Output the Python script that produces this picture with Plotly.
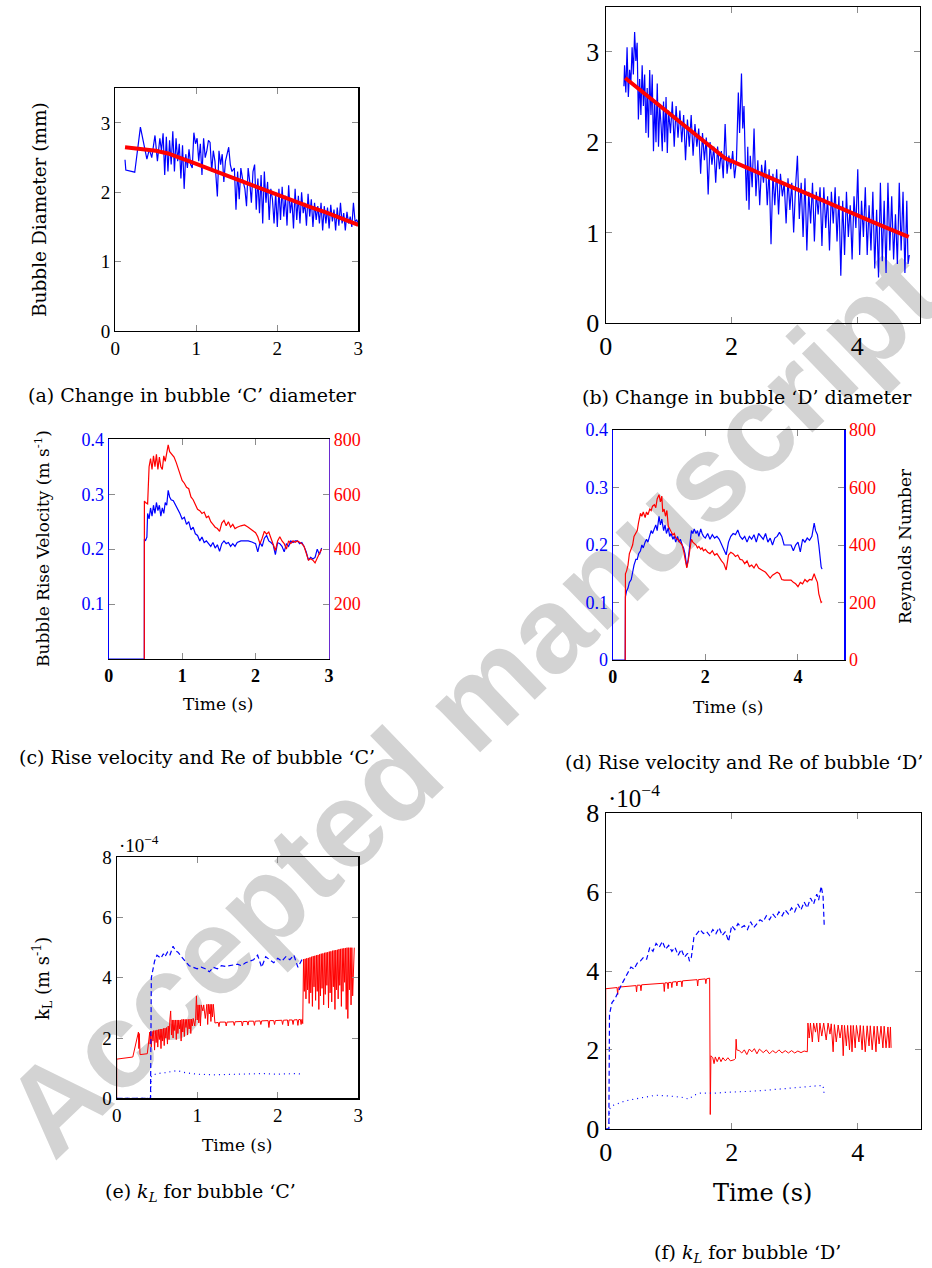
import plotly.graph_objects as go

W, H = 932, 1268

# ---------------- data ----------------
# (a) bubble C diameter (time s, diameter mm)
a_meas = [(0.12,2.47),(0.13,2.32),(0.24,2.29),(0.31,2.94),(0.36,2.65),(0.39,2.48),(0.42,2.62),(0.45,2.50),
          (0.49,2.82),(0.52,2.45),(0.55,2.78),(0.57,2.60),(0.59,2.85),(0.61,2.25),(0.63,2.80),(0.65,2.30),
          (0.67,2.75),(0.69,2.40),(0.71,2.88),(0.73,2.30),(0.75,2.78),(0.77,2.45),(0.79,2.70),(0.81,2.20),
          (0.83,2.68),(0.85,2.05),(0.87,2.55),(0.89,2.35),(0.91,2.62),(0.93,2.40),(0.95,2.35),(0.97,2.86),
          (0.99,2.70),(1.01,2.78),(1.03,2.45),(1.05,2.70),(1.07,2.25),(1.09,2.78),(1.11,2.50),(1.13,2.60),
          (1.15,2.75),(1.17,2.72),(1.19,2.30),(1.21,2.60),(1.23,2.45),(1.26,1.94),(1.28,2.60),(1.30,2.40),
          (1.32,2.55),(1.34,2.15),(1.36,2.45),(1.38,2.55),(1.40,2.65),(1.42,2.40),(1.44,2.30),(1.47,2.35),
          (1.49,1.75),(1.51,2.30),(1.53,1.90),(1.55,2.35),(1.57,2.20),(1.60,2.05),(1.62,1.80),(1.64,2.35),
          (1.66,2.15),(1.68,1.85),(1.70,2.30),(1.72,2.40),(1.74,1.75),(1.76,2.20),(1.78,1.70),(1.80,2.25),
          (1.82,1.55),(1.84,2.30),(1.86,1.85),(1.88,2.15),(1.90,1.60),(1.92,2.05),(1.94,1.90),(1.96,1.55),
          (1.98,2.00),(2.00,1.50),(2.02,2.05),(2.04,1.60),(2.06,2.08),(2.08,1.65),(2.10,1.95),(2.12,1.52),
          (2.14,2.10),(2.16,1.70),(2.18,1.90),(2.20,1.48),(2.22,2.05),(2.24,1.60),(2.26,1.95),(2.28,1.55),
          (2.30,2.00),(2.32,1.70),(2.34,1.85),(2.36,1.52),(2.38,1.98),(2.40,1.65),(2.42,1.90),(2.44,1.50),
          (2.46,1.85),(2.48,1.60),(2.50,1.80),(2.52,1.55),(2.54,1.85),(2.56,1.45),(2.58,1.80),(2.60,1.55),
          (2.62,1.78),(2.64,1.48),(2.66,1.82),(2.68,1.58),(2.70,1.75),(2.72,1.45),(2.74,1.78),(2.76,1.52),
          (2.78,1.85),(2.80,1.55),(2.82,1.70),(2.84,1.45),(2.86,1.72),(2.88,1.55),(2.90,1.65),(2.92,1.50),
          (2.94,1.85),(2.96,1.58),(2.98,1.60),(3.00,1.55)]
a_fit = [(0.12,2.65),(0.3,2.62),(0.5,2.60),(0.65,2.56),(0.8,2.49),(1.0,2.41),(1.2,2.32),(1.4,2.23),
         (1.6,2.14),(1.8,2.05),(2.0,1.97),(2.2,1.88),(2.4,1.79),(2.6,1.71),(2.8,1.62),(3.0,1.53)]

# (b) bubble D diameter
b_meas = [(0.29,2.62),(0.30,2.85),(0.32,2.55),(0.34,3.05),(0.36,2.50),(0.38,2.80),(0.40,2.65),(0.42,3.05),
          (0.44,2.75),(0.46,3.22),(0.48,2.90),(0.50,3.10),(0.52,2.25),(0.54,2.70),(0.56,2.30),(0.58,2.85),
          (0.60,2.40),(0.62,2.75),(0.64,2.10),(0.66,2.60),(0.68,2.05),(0.70,2.80),(0.72,2.30),(0.74,2.75),
          (0.76,1.90),(0.78,2.45),(0.80,2.00),(0.82,2.65),(0.84,1.95),(0.86,2.40),(0.88,2.20),(0.90,1.90),
          (0.92,2.45),(0.94,2.00),(0.96,2.50),(0.98,1.88),(1.00,2.35),(1.03,2.10),(1.06,2.45),(1.09,1.95),
          (1.12,2.40),(1.15,2.05),(1.18,2.35),(1.21,2.00),(1.24,2.30),(1.27,1.80),(1.30,2.25),(1.33,1.95),
          (1.36,2.30),(1.39,1.85),(1.42,2.20),(1.45,1.95),(1.48,2.15),(1.51,1.65),(1.54,2.10),(1.57,1.80),
          (1.60,2.05),(1.63,1.42),(1.66,2.00),(1.69,1.75),(1.72,1.95),(1.75,1.55),(1.78,1.95),(1.81,1.70),
          (1.84,1.90),(1.87,1.60),(1.90,2.20),(1.93,1.65),(1.96,1.85),(1.99,1.70),(2.02,1.90),(2.05,1.60),
          (2.08,1.80),(2.11,2.55),(2.13,2.10),(2.16,2.76),(2.18,2.15),(2.20,2.40),(2.22,1.80),(2.24,1.35),
          (2.26,1.95),(2.28,1.25),(2.30,1.85),(2.33,1.50),(2.36,2.15),(2.39,1.40),(2.42,1.80),(2.45,1.30),
          (2.48,1.75),(2.51,1.55),(2.54,1.80),(2.57,1.30),(2.60,1.70),(2.63,0.87),(2.66,1.65),(2.69,1.30),
          (2.72,1.70),(2.75,1.20),(2.78,1.65),(2.81,1.40),(2.84,1.55),(2.87,1.10),(2.90,1.60),(2.93,1.25),
          (2.96,1.55),(2.99,1.00),(3.02,1.50),(3.05,1.85),(3.08,1.15),(3.11,1.55),(3.14,0.95),(3.17,1.60),
          (3.20,0.80),(3.23,1.45),(3.26,1.10),(3.29,1.55),(3.32,0.90),(3.35,1.45),(3.38,1.20),(3.41,1.50),
          (3.44,0.85),(3.47,1.50),(3.50,1.05),(3.53,1.40),(3.56,0.80),(3.59,1.45),(3.62,1.10),(3.65,1.50),
          (3.68,0.90),(3.71,1.40),(3.74,0.52),(3.77,1.35),(3.80,0.75),(3.83,1.45),(3.86,0.95),(3.89,1.30),
          (3.92,0.70),(3.95,1.40),(3.98,1.05),(4.01,1.70),(4.04,0.75),(4.07,1.35),(4.10,0.95),(4.13,1.50),
          (4.16,0.75),(4.19,1.30),(4.22,0.80),(4.25,1.45),(4.28,0.60),(4.31,1.25),(4.34,0.50),(4.37,1.55),
          (4.40,0.68),(4.43,1.35),(4.46,0.55),(4.49,1.55),(4.52,0.80),(4.55,1.40),(4.58,0.70),(4.61,1.20),
          (4.64,0.65),(4.67,1.55),(4.70,0.80),(4.73,1.45),(4.76,0.55),(4.79,1.35),(4.81,0.65),(4.83,0.75)]
b_fit = [(0.31,2.71),(0.6,2.55),(1.0,2.33),(1.4,2.10),(1.9,1.82),(2.3,1.70),(2.8,1.55),(3.3,1.40),
         (3.8,1.24),(4.3,1.10),(4.82,0.95)]

# (c) bubble C rise velocity (m/s) and Reynolds number
c_vel = [(0,0),(0.485,0),(0.486,0.218),(0.50,0.215),(0.52,0.222),(0.53,0.265),(0.55,0.255),(0.57,0.275),
         (0.59,0.26),(0.61,0.28),(0.63,0.265),(0.65,0.285),(0.67,0.27),(0.69,0.28),(0.71,0.26),(0.73,0.275),
         (0.75,0.265),(0.77,0.285),(0.79,0.28),(0.81,0.307),(0.83,0.295),(0.85,0.29),(0.88,0.288),(0.91,0.28),
         (0.94,0.275),(0.97,0.265),(1.00,0.255),(1.03,0.258),(1.06,0.245),(1.09,0.25),(1.12,0.235),(1.15,0.24),
         (1.18,0.228),(1.21,0.225),(1.24,0.215),(1.27,0.222),(1.30,0.212),(1.33,0.215),(1.36,0.21),(1.39,0.205),
         (1.42,0.212),(1.45,0.202),(1.48,0.208),(1.51,0.196),(1.54,0.21),(1.57,0.215),(1.60,0.21),(1.63,0.212),
         (1.66,0.205),(1.69,0.21),(1.72,0.205),(1.75,0.212),(1.80,0.215),(1.85,0.215),(1.90,0.215),(1.95,0.213),
         (2.00,0.21),(2.03,0.195),(2.06,0.212),(2.09,0.205),(2.12,0.22),(2.15,0.225),(2.18,0.215),(2.21,0.212),
         (2.24,0.208),(2.27,0.19),(2.30,0.212),(2.33,0.21),(2.36,0.205),(2.39,0.195),(2.42,0.21),(2.45,0.205),
         (2.48,0.215),(2.51,0.212),(2.54,0.215),(2.57,0.215),(2.60,0.21),(2.63,0.212),(2.66,0.205),(2.69,0.195),
         (2.72,0.18),(2.75,0.185),(2.78,0.182),(2.81,0.185),(2.84,0.2),(2.87,0.19),(2.90,0.202)]
c_re = [(0.485,0),(0.486,575),(0.50,570),(0.53,565),(0.55,700),(0.57,730),(0.59,690),(0.61,740),(0.63,700),
        (0.65,745),(0.67,690),(0.69,735),(0.71,700),(0.73,690),(0.75,740),(0.77,720),(0.79,750),(0.81,780),
        (0.83,755),(0.86,745),(0.89,735),(0.92,715),(0.95,690),(0.98,665),(1.00,650),(1.03,640),(1.06,625),
        (1.09,620),(1.12,590),(1.15,580),(1.18,560),(1.21,545),(1.24,540),(1.27,530),(1.30,535),(1.33,515),
        (1.36,520),(1.39,500),(1.42,490),(1.45,480),(1.48,475),(1.51,465),(1.54,495),(1.57,505),(1.60,485),
        (1.63,500),(1.66,480),(1.69,490),(1.72,475),(1.75,480),(1.80,485),(1.85,488),(1.90,480),(1.95,470),
        (2.00,460),(2.03,445),(2.06,420),(2.09,440),(2.12,465),(2.15,455),(2.18,462),(2.21,440),(2.24,420),
        (2.27,395),(2.30,430),(2.33,445),(2.36,430),(2.39,420),(2.42,400),(2.45,430),(2.48,420),(2.51,430),
        (2.54,425),(2.57,430),(2.60,425),(2.63,420),(2.66,410),(2.69,385),(2.72,360),(2.75,365),(2.78,360),
        (2.81,350),(2.84,370),(2.87,385),(2.90,400)]

# (d) bubble D rise velocity and Reynolds number
d_vel = [(0,0),(0.27,0),(0.275,0.11),(0.30,0.12),(0.33,0.125),(0.36,0.135),(0.40,0.14),(0.43,0.155),
         (0.46,0.165),(0.50,0.175),(0.53,0.175),(0.56,0.185),(0.60,0.19),(0.63,0.2),(0.66,0.195),(0.70,0.205),
         (0.73,0.21),(0.76,0.205),(0.80,0.215),(0.83,0.225),(0.86,0.22),(0.90,0.228),(0.93,0.235),(0.96,0.225),
         (1.00,0.25),(1.03,0.235),(1.06,0.245),(1.10,0.225),(1.13,0.235),(1.16,0.22),(1.20,0.23),(1.23,0.215),
         (1.26,0.22),(1.30,0.21),(1.33,0.215),(1.36,0.205),(1.40,0.215),(1.43,0.205),(1.46,0.21),(1.50,0.2),
         (1.53,0.195),(1.56,0.185),(1.60,0.162),(1.63,0.175),(1.66,0.195),(1.70,0.225),(1.73,0.22),(1.76,0.228),
         (1.80,0.22),(1.83,0.225),(1.86,0.215),(1.90,0.228),(1.93,0.22),(1.96,0.215),(2.00,0.212),(2.05,0.22),
         (2.10,0.21),(2.15,0.218),(2.20,0.212),(2.25,0.215),(2.30,0.21),(2.35,0.2),(2.40,0.19),(2.45,0.183),
         (2.50,0.205),(2.55,0.215),(2.60,0.22),(2.65,0.218),(2.70,0.226),(2.75,0.215),(2.80,0.21),(2.85,0.215),
         (2.90,0.205),(2.95,0.215),(3.00,0.21),(3.05,0.218),(3.10,0.205),(3.15,0.22),(3.20,0.215),(3.25,0.21),
         (3.30,0.22),(3.35,0.205),(3.40,0.212),(3.45,0.2),(3.50,0.212),(3.55,0.215),(3.60,0.222),(3.65,0.215),
         (3.70,0.2),(3.75,0.2),(3.80,0.2),(3.85,0.2),(3.90,0.19),(3.95,0.2),(4.00,0.205),(4.05,0.188),
         (4.10,0.21),(4.15,0.205),(4.20,0.212),(4.25,0.208),(4.30,0.215),(4.35,0.238),(4.38,0.225),(4.42,0.218),
         (4.45,0.2),(4.48,0.175),(4.50,0.162),(4.52,0.158)]
d_re = [(0.27,0),(0.275,300),(0.30,310),(0.33,330),(0.36,370),(0.40,385),(0.43,400),(0.46,430),(0.50,445),
        (0.53,450),(0.56,480),(0.60,510),(0.63,500),(0.66,515),(0.70,495),(0.73,515),(0.76,505),(0.80,525),
        (0.83,520),(0.86,535),(0.90,540),(0.93,530),(0.96,560),(1.00,575),(1.03,550),(1.06,570),(1.08,515),
        (1.11,525),(1.14,500),(1.17,520),(1.20,465),(1.23,455),(1.26,450),(1.30,435),(1.33,440),(1.36,425),
        (1.40,420),(1.43,415),(1.46,410),(1.50,400),(1.53,380),(1.56,350),(1.60,320),(1.63,345),(1.66,380),
        (1.70,420),(1.73,410),(1.76,405),(1.80,400),(1.83,390),(1.86,395),(1.90,385),(1.93,390),(1.96,380),
        (2.00,385),(2.05,375),(2.10,370),(2.15,380),(2.20,365),(2.25,370),(2.30,355),(2.35,345),(2.40,335),
        (2.45,313),(2.50,365),(2.55,375),(2.60,370),(2.65,360),(2.70,365),(2.75,350),(2.80,348),(2.85,335),
        (2.90,345),(2.95,325),(3.00,330),(3.05,320),(3.10,335),(3.15,320),(3.20,315),(3.25,310),(3.30,305),
        (3.35,295),(3.40,285),(3.45,295),(3.50,300),(3.55,305),(3.60,300),(3.65,280),(3.70,278),(3.75,278),
        (3.80,278),(3.85,278),(3.90,270),(3.95,265),(4.00,255),(4.05,270),(4.10,265),(4.15,280),(4.20,272),
        (4.25,280),(4.30,278),(4.35,300),(4.38,285),(4.42,270),(4.45,230),(4.48,210),(4.50,200),(4.52,203)]

# (e) k_L for bubble C  (units of 1e-4 m/s)
e_red = [(0,0),(0,1.30),(0.20,1.37),(0.27,2.20),(0.275,1.65),(0.28,2.15),(0.29,1.45),(0.38,1.48),(0.41,2.20),
         (0.415,1.80),(0.42,2.22),(0.43,1.70),(0.44,2.22),(0.45,1.90),(0.46,2.25),(0.47,1.60),(0.48,2.25),
         (0.49,1.85),(0.50,2.27),(0.51,1.70),(0.52,2.28),(0.53,1.95),(0.54,2.30),(0.55,1.65),(0.56,2.30),
         (0.57,1.90),(0.58,2.32),(0.59,1.75),(0.60,2.33),(0.61,2.00),(0.62,2.35),(0.63,1.80),(0.64,2.40),
         (0.65,1.95),(0.66,2.60),(0.67,2.90),(0.68,2.10),(0.69,2.60),(0.70,2.00),(0.71,2.60),(0.72,2.25),
         (0.73,2.60),(0.74,1.95),(0.75,2.60),(0.76,2.15),(0.77,2.60),(0.78,2.30),(0.79,2.60),(0.80,1.90),
         (0.81,2.62),(0.82,2.20),(0.83,2.62),(0.84,2.05),(0.85,2.62),(0.86,2.35),(0.87,2.62),(0.88,2.10),
         (0.89,2.62),(0.90,2.30),(0.91,2.63),(0.92,2.15),(0.93,2.63),(0.94,2.40),(0.95,2.65),(0.97,2.40),
         (0.98,2.66),(0.99,3.40),(1.00,2.60),(1.01,3.10),(1.02,2.50),(1.03,3.10),(1.04,2.40),(1.05,3.10),
         (1.07,2.90),(1.08,3.10),(1.10,2.65),(1.12,3.12),(1.13,2.45),(1.14,3.12),(1.15,2.80),(1.16,3.12),
         (1.17,2.55),(1.18,3.12),(1.19,2.70),(1.20,3.12),(1.22,2.50),(1.26,2.52),(1.27,2.38),(1.28,2.53),
         (1.35,2.53),(1.36,2.40),(1.37,2.53),(1.45,2.54),(1.46,2.42),(1.47,2.54),(1.55,2.55),(1.56,2.40),
         (1.57,2.55),(1.62,2.55),(1.63,2.43),(1.64,2.56),(1.70,2.56),(1.71,2.42),(1.72,2.56),(1.78,2.57),
         (1.79,2.45),(1.80,2.57),(1.88,2.58),(1.89,2.35),(1.90,2.58),(1.95,2.58),(1.96,2.45),(1.97,2.58),
         (2.05,2.59),(2.06,2.45),(2.07,2.59),(2.12,2.60),(2.13,2.40),(2.14,2.60),(2.18,2.60),(2.19,2.45),
         (2.20,2.60),(2.24,2.61),(2.25,2.42),(2.26,2.61),(2.28,2.62),(2.29,2.45),(2.30,2.62),(2.31,2.48),
         (2.32,4.62),(2.33,3.55),(2.34,4.63),(2.35,3.30),(2.36,4.65),(2.37,3.60),(2.38,4.66),(2.39,3.15),
         (2.40,4.68),(2.41,3.50),(2.42,4.70),(2.43,3.05),(2.44,4.72),(2.45,3.70),(2.46,4.73),(2.47,3.25),
         (2.48,4.75),(2.49,3.55),(2.50,4.76),(2.51,2.95),(2.52,4.78),(2.53,3.40),(2.54,4.80),(2.55,3.65),
         (2.56,4.81),(2.57,3.10),(2.58,4.83),(2.59,3.45),(2.60,4.84),(2.61,3.75),(2.62,4.85),(2.63,3.00),
         (2.64,4.87),(2.65,3.50),(2.66,4.88),(2.67,3.20),(2.68,4.90),(2.69,3.70),(2.70,4.91),(2.71,2.95),
         (2.72,4.92),(2.73,3.60),(2.74,4.93),(2.75,3.30),(2.76,4.95),(2.77,3.75),(2.78,4.96),(2.79,3.05),
         (2.80,4.97),(2.81,3.55),(2.82,4.98),(2.83,3.85),(2.84,4.99),(2.85,2.95),(2.86,5.00),(2.87,2.65),
         (2.88,5.00),(2.89,3.60),(2.90,5.00),(2.91,3.10),(2.92,5.00),(2.93,3.40),(2.95,5.00)]
e_dash = [(0,0),(0.42,0),(0.43,4.0),(0.47,4.55),(0.50,4.75),(0.55,4.65),(0.58,4.8),(0.60,4.7),(0.63,4.85),
          (0.66,4.75),(0.70,5.05),(0.73,4.9),(0.76,4.85),(0.80,4.7),(0.85,4.55),(0.90,4.4),(0.95,4.35),
          (1.00,4.3),(1.05,4.35),(1.10,4.3),(1.15,4.2),(1.20,4.35),(1.25,4.3),(1.30,4.4),(1.35,4.38),
          (1.40,4.4),(1.45,4.42),(1.50,4.45),(1.55,4.4),(1.60,4.5),(1.65,4.55),(1.70,4.6),(1.75,4.75),
          (1.80,4.35),(1.85,4.7),(1.90,4.6),(1.95,4.5),(2.00,4.65),(2.05,4.55),(2.10,4.7),(2.15,4.6),
          (2.20,4.75),(2.25,4.35),(2.30,4.6),(2.32,4.65)]
e_dot = [(0,0),(0.42,0),(0.43,0.75),(0.50,0.82),(0.60,0.85),(0.70,0.9),(0.75,0.92),(0.85,0.85),(1.00,0.8),
         (1.20,0.78),(1.50,0.8),(1.80,0.82),(2.00,0.8),(2.20,0.82),(2.32,0.8)]

# (f) k_L for bubble D  (units of 1e-4 m/s)
f_red = [(0,0),(0,3.55),(0.18,3.58),(0.19,3.40),(0.20,3.59),(0.48,3.63),(0.49,3.47),(0.50,3.64),(0.55,3.64),
         (0.56,3.50),(0.57,3.65),(0.92,3.69),(0.93,3.48),(0.94,3.70),(0.98,3.70),(0.99,3.55),(1.00,3.71),
         (1.04,3.71),(1.05,3.58),(1.06,3.72),(1.12,3.73),(1.13,3.62),(1.14,3.73),(1.20,3.74),(1.21,3.60),
         (1.22,3.75),(1.45,3.78),(1.46,3.62),(1.47,3.78),(1.58,3.80),(1.59,3.68),(1.60,3.80),(1.65,3.82),
         (1.66,0.36),(1.67,1.85),(1.70,1.80),(1.72,1.65),(1.74,1.82),(1.77,1.70),(1.80,1.82),(1.83,1.70),
         (1.86,1.80),(1.90,1.72),(1.94,1.80),(1.98,1.72),(2.04,1.75),(2.06,1.78),(2.07,2.27),(2.08,2.00),
         (2.12,1.98),(2.16,1.92),(2.20,2.00),(2.24,1.88),(2.28,2.02),(2.32,1.95),(2.36,2.03),(2.40,1.90),
         (2.44,2.02),(2.50,1.93),(2.55,2.00),(2.60,1.90),(2.65,1.98),(2.70,1.92),(2.75,2.00),(2.80,1.92),
         (2.85,1.98),(2.90,1.92),(2.95,1.98),(3.00,1.92),(3.05,1.97),(3.10,1.93),(3.15,1.97),(3.20,1.95),
         (3.21,2.68),(3.23,2.30),(3.25,2.68),(3.28,2.20),(3.30,2.68),(3.33,2.45),(3.35,2.68),(3.38,2.20),
         (3.40,2.68),(3.43,2.35),(3.46,2.68),(3.50,2.25),(3.53,2.68),(3.56,2.40),(3.58,2.66),(3.61,1.95),
         (3.63,2.64),(3.66,2.20),(3.69,2.63),(3.72,2.30),(3.75,2.63),(3.77,1.85),(3.79,2.62),(3.82,2.10),
         (3.84,2.62),(3.87,2.00),(3.89,2.62),(3.91,1.95),(3.93,2.62),(3.96,2.05),(3.98,2.62),(4.02,2.20),
         (4.04,2.62),(4.07,2.00),(4.09,2.61),(4.12,1.95),(4.15,2.61),(4.18,2.10),(4.20,2.61),(4.23,2.00),
         (4.26,2.60),(4.29,1.95),(4.31,2.60),(4.34,2.15),(4.37,2.60),(4.40,2.05),(4.42,2.60),(4.45,2.05),
         (4.48,2.58),(4.50,2.05),(4.52,2.58),(4.53,2.05)]
f_dash = [(0,0),(0.05,0),(0.06,2.9),(0.10,3.2),(0.15,3.3),(0.20,3.5),(0.25,3.65),(0.30,3.8),(0.35,3.95),
          (0.40,4.1),(0.45,4.05),(0.50,4.2),(0.55,4.25),(0.60,4.35),(0.65,4.3),(0.70,4.6),(0.75,4.5),
          (0.80,4.7),(0.85,4.6),(0.90,4.75),(0.95,4.55),(1.00,4.65),(1.05,4.5),(1.10,4.6),(1.15,4.4),
          (1.20,4.55),(1.25,4.35),(1.30,4.45),(1.33,4.25),(1.36,4.35),(1.40,4.85),(1.45,4.95),(1.50,5.05),
          (1.55,4.95),(1.60,5.0),(1.65,4.9),(1.70,5.05),(1.75,4.95),(1.80,5.1),(1.85,4.9),(1.90,5.0),
          (1.95,4.75),(2.00,5.15),(2.05,5.05),(2.10,5.2),(2.15,5.1),(2.20,5.15),(2.25,5.05),(2.30,5.25),
          (2.35,5.1),(2.40,5.2),(2.45,5.3),(2.50,5.25),(2.55,5.4),(2.60,5.3),(2.65,5.45),(2.70,5.35),
          (2.75,5.5),(2.80,5.4),(2.85,5.55),(2.90,5.45),(2.95,5.6),(3.00,5.5),(3.05,5.7),(3.10,5.55),
          (3.15,5.75),(3.20,5.6),(3.25,5.85),(3.30,5.7),(3.35,5.95),(3.38,5.8),(3.42,6.15),(3.45,5.9),(3.47,5.1)]
f_dot = [(0.05,0),(0.06,0.5),(0.10,0.58),(0.20,0.65),(0.30,0.7),(0.45,0.75),(0.60,0.8),(0.80,0.85),
         (1.00,0.83),(1.20,0.8),(1.32,0.75),(1.40,0.85),(1.50,0.9),(1.70,0.9),(1.90,0.92),(2.10,0.93),
         (2.30,0.95),(2.50,0.97),(2.70,1.0),(2.90,1.02),(3.10,1.05),(3.30,1.08),(3.45,1.1),(3.47,0.85)]

captions = ["(a) Change in bubble ‘C’ diameter", "(b) Change in bubble ‘D’ diameter",
            "(c) Rise velocity and Re of bubble ‘C’", "(d) Rise velocity and Re of bubble ‘D’",
            "(e) <i>k<sub>L</sub></i> for bubble ‘C’", "(f) <i>k<sub>L</sub></i> for bubble ‘D’"]

# ---------------- layout helpers ----------------
SERIF = "Liberation Serif"
TSERIF = "DejaVu Serif"
BLUE, RED, PURPLE = "#0000ff", "#ff0000", "#6a2bd0"


def px(xp):
    return xp / W


def py(yp):
    return 1 - yp / H


def xs(d):
    return [p[0] for p in d]


def ys(d):
    return [p[1] for p in d]


fig = go.Figure()


def line(data, xa, ya, color, width=1.2, dash=None):
    fig.add_trace(go.Scatter(x=xs(data), y=ys(data), mode="lines", xaxis=xa, yaxis=ya,
                             line=dict(color=color, width=width, dash=dash), showlegend=False,
                             hoverinfo="skip"))


line(a_meas, "x", "y", BLUE, 1.2)
line(a_fit, "x", "y", RED, 4)
line(b_meas, "x2", "y2", BLUE, 1.2)
line(b_fit, "x2", "y2", RED, 4)
line(c_vel, "x3", "y3", BLUE, 1.2)
line(c_re, "x3", "y4", RED, 1.2)
line(d_vel, "x4", "y5", BLUE, 1.2)
line(d_re, "x4", "y6", RED, 1.2)
line(e_red, "x5", "y7", RED, 1.0)
line(e_dash, "x5", "y7", BLUE, 1.2, "5px,3px")
line(e_dot, "x5", "y7", BLUE, 1.2, "1px,4px")
line(f_red, "x6", "y8", RED, 1.0)
line(f_dash, "x6", "y8", BLUE, 1.2, "5px,3px")
line(f_dot, "x6", "y8", BLUE, 1.2, "1px,4px")


def axstyle(size, rng, tickvals, color="black", linecolor="black", mirror="ticks", bold=False):
    f = dict(family=SERIF, size=size, color=color)
    if bold:
        f["weight"] = "bold"
    return dict(range=rng, tickvals=tickvals, ticks="inside", ticklen=6, tickcolor="#8c8c8c",
                tickwidth=1, showline=True, linecolor=linecolor, linewidth=1.2, mirror=mirror,
                showgrid=False, zeroline=False, tickfont=f, fixedrange=True, automargin=False)


# pixel boxes of the panels: (left, right, top, bottom)
box = {
    "a": (115.3, 358.3, 88.3, 331.0),
    "b": (605.7, 920.0, 6.7, 322.7),
    "c": (108.7, 329.0, 439.3, 659.0),
    "d": (612.7, 844.3, 430.0, 660.0),
    "e": (116.7, 358.3, 857.3, 1098.3),
    "f": (605.7, 920.7, 813.3, 1128.7),
}


def dom(k):
    l, r, t, b = box[k]
    return [px(l), px(r)], [py(b), py(t)]


lay = {}
xd, yd = dom("a")
lay["xaxis"] = dict(domain=xd, anchor="y", **axstyle(19, [0, 3], [0, 1, 2, 3]))
lay["yaxis"] = dict(domain=yd, anchor="x", **axstyle(19, [0, 3.5], [0, 1, 2, 3]))
xd, yd = dom("b")
lay["xaxis2"] = dict(domain=xd, anchor="y2", **axstyle(26, [0, 5], [0, 2, 4]))
lay["yaxis2"] = dict(domain=yd, anchor="x2", **axstyle(26, [0, 3.5], [0, 1, 2, 3]))
xd, yd = dom("c")
lay["xaxis3"] = dict(domain=xd, anchor="y3", **axstyle(18, [0, 3], [0, 1, 2, 3], bold=True))
lay["yaxis3"] = dict(domain=yd, anchor="x3", **axstyle(18, [0, 0.4], [0.1, 0.2, 0.3, 0.4], color=BLUE,
                                                       linecolor=BLUE, mirror=False))
lay["yaxis4"] = dict(overlaying="y3", anchor="x3", side="right",
                     **axstyle(18, [0, 800], [200, 400, 600, 800], color=RED, linecolor=PURPLE, mirror=False))
xd, yd = dom("d")
lay["xaxis4"] = dict(domain=xd, anchor="y5", **axstyle(18, [0, 5], [0, 2, 4], bold=True))
lay["yaxis5"] = dict(domain=yd, anchor="x4", **axstyle(18, [0, 0.4], [0, 0.1, 0.2, 0.3, 0.4], color=BLUE,
                                                       linecolor=BLUE, mirror=False))
lay["yaxis6"] = dict(overlaying="y5", anchor="x4", side="right",
                     **axstyle(18, [0, 800], [0, 200, 400, 600, 800], color=RED, linecolor=BLUE, mirror=False))
xd, yd = dom("e")
lay["xaxis5"] = dict(domain=xd, anchor="y7", **axstyle(19, [0, 3], [0, 1, 2, 3]))
lay["yaxis7"] = dict(domain=yd, anchor="x5", **axstyle(19, [0, 8], [0, 2, 4, 6, 8]))
xd, yd = dom("f")
lay["xaxis6"] = dict(domain=xd, anchor="y8", **axstyle(26, [0, 5], [0, 2, 4]))
lay["yaxis8"] = dict(domain=yd, anchor="x6", **axstyle(26, [0, 8], [0, 2, 4, 6, 8]))

fig.update_layout(template="none", width=W, height=H, margin=dict(l=0, r=0, t=0, b=0, pad=0),
                  autosize=False, paper_bgcolor="white", plot_bgcolor="rgba(0,0,0,0)",
                  font=dict(family=SERIF, color="black"), **lay)


def text(t, xp, yp, size, angle=0, xanchor="center", color="black", family=TSERIF):
    fig.add_annotation(text=t, x=px(xp), y=py(yp), xref="paper", yref="paper", showarrow=False,
                       xanchor=xanchor, yanchor="middle", textangle=angle,
                       font=dict(family=family, size=size, color=color))


# axis titles
text("Bubble Diameter (mm)", 40, 210, 18.5, -90)
text("Bubble Rise Velocity (m s<sup>-1</sup>)", 42, 549, 17, -90)
text("Time (s)", 218, 704, 17)
text("Reynolds Number", 905, 546, 17, -90)
text("Time (s)", 728, 707, 17)
text("k<sub>L</sub> (m s<sup>-1</sup>)", 42, 979, 18, -90)
text("·10<sup>−4</sup>", 117, 844, 19, xanchor="left", family=SERIF)
text("Time (s)", 237, 1145, 17)
text("·10<sup>−4</sup>", 606, 796, 25, xanchor="left", family=SERIF)
text("Time (s)", 762, 1193, 24)

# sub-figure captions
cap_pos = [(192, 395), (747, 397), (197, 757), (744, 762), (200, 1192), (747, 1253)]
for c, (cx, cy) in zip(captions, cap_pos):
    text(c, cx, cy, 19)

# watermark, placed under the plot layers
fig.add_shape(type="line", xref="paper", yref="paper", x0=px(15), y0=py(1125), x1=px(912), y1=py(262),
              line=dict(color="rgba(0,0,0,0)", width=0), layer="below",
              label=dict(text="Accepted manuscript", textposition="middle", yanchor="middle",
                         font=dict(family="Liberation Sans", size=122, color="#d3d3d3", weight="bold")))

fig.write_html("out.html", config={"displayModeBar": False, "staticPlot": True},
               post_script="document.body.style.margin='0';")
